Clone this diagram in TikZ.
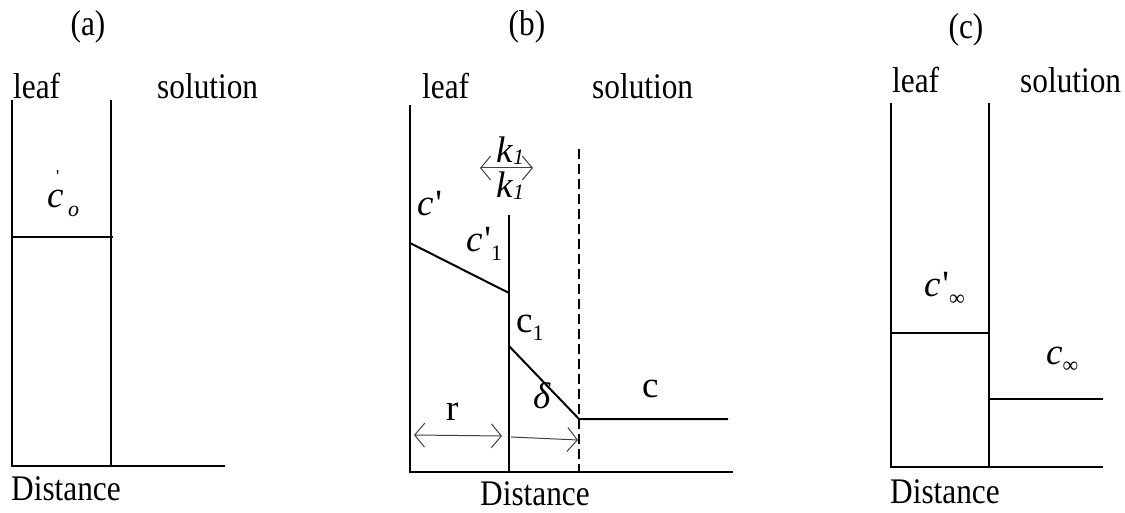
\documentclass[tikz,border=0pt]{standalone}
\usepackage{fontspec}
\setmainfont{Liberation Serif}[FakeStretch=0.87]
\newfontfamily\mfont{Liberation Serif}
\usepackage{graphicx}
\usetikzlibrary{arrows.meta}
\newcommand\lowsub[1]{\raisebox{-0.22em}{\fontsize{22}{22}\selectfont #1}}
\newcommand\ksub[1]{\raisebox{-0.04em}{\fontsize{22}{22}\selectfont #1}}
\begin{document}
\begin{tikzpicture}[x=1pt,y=-1pt,
  wall/.style={line width=2pt},
  dashwall/.style={line width=2pt, dash pattern=on 10pt off 5pt},
  lbl/.style={inner sep=0pt, font=\fontsize{36}{42}\selectfont},
  mlbl/.style={inner sep=0pt, font=\mfont\fontsize{37}{42}\selectfont},
  thinarrow/.style={line width=1pt, draw=black!75},
  barb/.tip={Straight Barb[length=10pt,width=24pt,line width=1pt]}
]
\useasboundingbox (0,0) rectangle (1125,513);

% ---------- panel (a) ----------
\coordinate (a0) at (12,100);
\coordinate (a1) at (12,466);
\coordinate (a2) at (111,100);
\coordinate (a3) at (111,466);
\coordinate (a4) at (225,466);
\coordinate (a5) at (12,237);
\coordinate (a6) at (113,237);
\draw[wall] (a0) -- (a1) -- (a4);
\draw[wall] (a2) -- (a3);
\draw[wall] (a5) -- (a6);
\node[lbl, anchor=base] (ta) at (88,36) {(a)};
\node[lbl, anchor=base west] (leafa) at (13,99) {leaf};
\node[lbl, anchor=base west] (sola) at (157,99) {solution};
\node[lbl, anchor=base west] (dista) at (11,500) {Distance};
\node[mlbl, anchor=base west] (coa) at (47,208) {\textit{c}\rlap{\kern-0.2em\raisebox{0.68em}{\fontsize{18}{18}\selectfont\textquotesingle}}\kern0.12em\lowsub{\textit{o}}};

% ---------- panel (b) ----------
\coordinate (b0) at (410,105);
\coordinate (b1) at (410,472);
\coordinate (b2) at (733,472);
\coordinate (b3) at (509,215);
\coordinate (b4) at (509,472);
\coordinate (b5) at (579,149);
\coordinate (b6) at (579,472);
\coordinate (b7) at (410,243);
\coordinate (b8) at (509,293);
\coordinate (b9) at (509,346);
\coordinate (b10) at (579,419);
\coordinate (b11) at (728,419);
\coordinate (k0) at (480,168);
\coordinate (k1) at (533,168);
\coordinate (r0) at (414,435);
\coordinate (r1) at (502,436);
\coordinate (d0) at (511,437);
\coordinate (d1) at (578,440);
\draw[wall] (b0) -- (b1) -- (b2);
\draw[wall] (b3) -- (b4);
\draw[dashwall] (b5) -- (b6);
\draw[wall] (b7) -- (b8);
\draw[wall] (b9) -- (b10) -- (b11);
\draw[thinarrow, barb-barb] (k0) -- (k1);
\draw[thinarrow, barb-barb] (r0) -- (r1);
\draw[thinarrow, -barb] (d0) -- (d1);
\node[lbl, anchor=base] (tb) at (527,36) {(b)};
\node[lbl, anchor=base west] (leafb) at (422,99) {leaf};
\node[lbl, anchor=base west] (solb) at (592,99) {solution};
\node[lbl, anchor=base west] (distb) at (480,505) {Distance};
\node[mlbl, anchor=base west] (ktop) at (496,163) {\textit{k}\ksub{\textit{1}}};
\node[mlbl, anchor=base west] (kbot) at (496,198) {\textit{k}\ksub{\textit{1}}};
\node[mlbl, anchor=base west] (cp) at (417,216) {\textit{c}\kern0.05em\textquotesingle};
\node[mlbl, anchor=base west] (cp1) at (466,252) {\textit{c}\kern0.05em\textquotesingle\lowsub{1}};
\node[mlbl, anchor=base west] (c1) at (516,332) {c\lowsub{1}};
\node[mlbl, anchor=base west] (delta) at (533,408) {\textit{δ}};
\node[mlbl, anchor=base west] (cb) at (642,397) {c};
\node[mlbl, anchor=base west] (rb) at (446,420) {r};

% ---------- panel (c) ----------
\coordinate (c0) at (891,103);
\coordinate (c1p) at (891,467);
\coordinate (c2) at (1103,467);
\coordinate (c3) at (989,103);
\coordinate (c4) at (989,467);
\coordinate (c5) at (891,333);
\coordinate (c6) at (989,333);
\coordinate (c7) at (989,399);
\coordinate (c8) at (1103,399);
\draw[wall] (c0) -- (c1p) -- (c2);
\draw[wall] (c3) -- (c4);
\draw[wall] (c5) -- (c6);
\draw[wall] (c7) -- (c8);
\node[lbl, anchor=base] (tc) at (966,39) {(c)};
\node[lbl, anchor=base west] (leafc) at (892,93) {leaf};
\node[lbl, anchor=base west] (solc) at (1020,93) {solution};
\node[lbl, anchor=base west] (distc) at (890,503) {Distance};
\node[mlbl, anchor=base west] (cpinf) at (924,297) {\textit{c}\kern0.05em\textquotesingle\lowsub{∞}};
\node[mlbl, anchor=base west] (cinf) at (1046,364) {\textit{c}\lowsub{∞}};
\end{tikzpicture}
\end{document}
